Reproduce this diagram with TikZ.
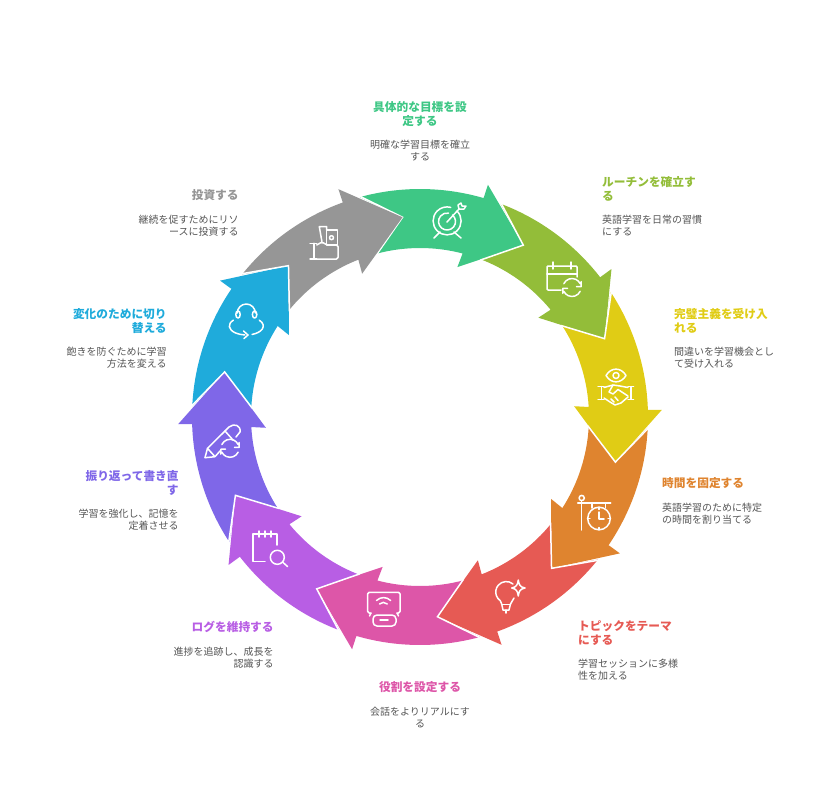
\documentclass[tikz,border=0pt]{standalone}
\usepackage{fontspec}
\setmainfont{Noto Sans CJK JP}
\usepackage{xcolor}
\definecolor{ringgreen}{HTML}{3EC785}
\definecolor{ringolive}{HTML}{93BD39}
\definecolor{ringyellow}{HTML}{E0CC15}
\definecolor{ringorange}{HTML}{DF842F}
\definecolor{ringred}{HTML}{E65A54}
\definecolor{ringpink}{HTML}{DD56A8}
\definecolor{ringpurple}{HTML}{B85EE4}
\definecolor{ringviolet}{HTML}{7F67E8}
\definecolor{ringblue}{HTML}{1FABDB}
\definecolor{ringgrey}{HTML}{969696}
\definecolor{bodygrey}{HTML}{555555}
\tikzset{
    icon/.style={draw=white, line width=1.5pt, line cap=round, line join=round},
    heading/.style={inner sep=0pt, font=\fontsize{11.7}{14}\selectfont\bfseries},
    bodytext/.style={inner sep=0pt, text=bodygrey, font=\fontsize{10}{12}\selectfont},
}
\newcommand{\refreshicon}[3]{
    \foreach \rot in {0,180} {
        \draw[icon, shift={(#1,#2)}, rotate=\rot] (205:#3) arc[start angle=205, end angle=335, radius=#3]
            (1.02*#3,-0.65*#3) -- (1.02*#3,-0.1*#3) -- (0.5*#3,-0.1*#3);
    }
}
\begin{document}
\begin{tikzpicture}[x=1pt, y=-1pt]
    \useasboundingbox (0,0) rectangle (840,784);

    % Ring of arrows, one for each tip angle
    \begin{scope}[shift={(420,417)}]
    \foreach \col/\tip in {ringgreen/-59, ringolive/-23, ringyellow/13, ringorange/49, ringred/85,
                           ringpink/121, ringpurple/157, ringviolet/193, ringblue/229, ringgrey/265} {
        \pgfmathsetmacro{\tailout}{\tip-46.3}
        \pgfmathsetmacro{\tailin}{\tip-46}
        \pgfmathsetmacro{\neckout}{\tip-14.8}
        \pgfmathsetmacro{\neckin}{\tip-16.4}
        \fill[\col] (\tailout:228) arc[start angle=\tailout, end angle=\neckout, radius=228]
            -- (\tip-14.7:242) -- (\tip:200.5) -- (\tip-17:154.5) -- (\neckin:169)
            arc[start angle=\neckin, end angle=\tailin, radius=169]
            -- (\tip-36:200.5) -- cycle;
        \draw[white, line width=1.5pt, line join=miter] (\tailout:229) -- (\tip-36:200.5) -- (\tailin:168);
    }
    \end{scope}

    % Target
    \draw[icon] (457,211) arc[start angle=-45, end angle=285, radius=14];
    \draw[icon] (452.5,215) arc[start angle=-50, end angle=280, radius=8.5];
    \draw[icon] (447,222) -- (459,209) (434,238) -- (440,232) (461,238) -- (454,232);
    \draw[icon] (459,209) -- (458,205) -- (461,203) -- (462,206) -- (466,206) -- (464,209) -- cycle;

    % Calendar
    \draw[icon, rounded corners=1pt] (561,290) -- (547,290) -- (547,266) -- (577,266) -- (577,277);
    \draw[icon] (547,274) -- (577,274) (553,262) -- (553,269) (571,262) -- (571,269);
    \refreshicon{572}{287.5}{9}

    % Eye and handshake
    \draw[icon] (606,375.5) .. controls (611,367) and (621,367) .. (626,375.5)
        .. controls (621,384) and (611,384) .. (606,375.5) -- cycle;
    \draw[icon] (616,375.5) circle[radius=3];
    \draw[icon] (598,386.7) -- (604,386.7) (601.5,386.7) -- (601.5,399.3) (598,399.3) -- (604,399.3);
    \draw[icon] (628,386.7) -- (633.5,386.7) (631,386.7) -- (631,399.3) (628,399.3) -- (633.5,399.3);
    \draw[icon] (604,387.5) -- (613,385) -- (620,386) -- (628,387.5);
    \draw[icon] (604,398) -- (610,402) -- (615,405) -- (621,403) -- (628,397);
    \draw[icon] (613,385) -- (609,392) -- (613,394) -- (618,389.5) -- (628,396);
    \draw[icon] (611,399) -- (614,402) (615,397) -- (618,400.5);

    % Sign with clock
    \draw[icon] (581.7,498) circle[radius=2.6];
    \draw[icon] (581.7,501) -- (581.7,530) (577.7,503) -- (610.7,503);
    \draw[icon] (592,503) -- (592,508) (605.7,503) -- (605.7,508);
    \draw[icon] (599,518.5) circle[radius=11.3];
    \draw[icon] (599,512) -- (599,519) -- (604,519);
    \foreach \ang in {0,90,180,270} {
        \draw[icon] (599,518.5) ++(\ang:11.3) -- ++(\ang:-2.2);
    }

    % Bulb with sparkle
    \draw[icon] (513,584) arc[start angle=-50, end angle=-235, radius=10.5] -- (501.7,604) -- (503,610) -- (509,610) -- (510.5,604) -- (514,598);
    \draw[icon] (501.7,604.5) -- (510.5,604.5) (506,610) -- (506,613);
    \draw[icon] (518.3,580) .. controls (519,585) and (520,587) .. (525,588)
        .. controls (520,589) and (519,591) .. (518.3,596)
        .. controls (517.5,591) and (516.5,589) .. (511.7,588)
        .. controls (516.5,587) and (517.5,585) .. (518.3,580) -- cycle;

    % Tablet and goggles
    \draw[icon, rounded corners=1.5pt] (371,613) -- (367.7,613) -- (367.7,592.3) -- (400,592.3) -- (400,613) -- (397,613);
    \draw[icon] (371,613) -- (369.5,616) (397,613) -- (398.5,616);
    \draw[icon] (379.5,604) arc[start angle=-135, end angle=-45, radius=5.5];
    \draw[icon] (376.5,600.5) arc[start angle=-135, end angle=-45, radius=10];
    \draw[icon, rounded corners=4pt] (373,615) rectangle (396,626);
    \draw[icon] (380,620) -- (388,620);

    % Log sheet with magnifier
    \draw[icon] (265,561.7) -- (253,561.7) -- (253,534) -- (277,534) -- (277,545);
    \foreach \x in {259,265,271} {
        \draw[icon] (\x,531) -- (\x,537);
    }
    \draw[icon] (277.3,557.3) circle[radius=7];
    \draw[icon] (282.5,562) -- (287.5,566.5);

    % Pencil
    \draw[icon] (205,457.7) -- (207.5,448.3) -- (229,427) .. controls (234,423) and (241,425) .. (240,432) -- (236,437);
    \draw[icon] (205,457.7) -- (215,456.7) -- (207.5,448.3) (215,456.7) -- (220,451);
    \draw[icon] (225,431) -- (233,440);
    \refreshicon{230}{448.3}{9}

    % Headphones and loop
    \draw[icon] (237.3,313) arc[start angle=180, end angle=360, radius=9];
    \draw[icon] (238,314.5) ellipse[x radius=2.2, y radius=3.6];
    \draw[icon] (254.6,314.5) ellipse[x radius=2.2, y radius=3.6];
    \draw[icon] (233.3,320.2) arc[start angle=220, end angle=95, x radius=17, y radius=9];
    \draw[icon] (259.3,320.2) arc[start angle=-40, end angle=70, x radius=17, y radius=9];
    \draw[icon] (243.5,331) -- (248,335) -- (244,338.5);

    % Hand with money
    \draw[icon] (326.7,230) rectangle (337.7,245);
    \draw[icon] (331.5,237.7) circle[radius=2];
    \draw[icon] (326.7,230) -- (326.7,226.7) -- (319.3,226.7) -- (322,242);
    \draw[icon] (310,243.3) -- (316.7,243.3) (314,243.3) -- (314,259) (310,259) -- (316.7,259);
    \draw[icon, rounded corners=1.5pt] (316.7,245) -- (322,242) -- (327,245) -- (338,245) -- (338,259) -- (316.7,259);

    % Labels around the ring
    \node[heading, text=ringgreen, align=center, anchor=north] (goal) at (420,101.5) {具体的な目標を設\\定する};
    \node[bodytext, align=center, anchor=north] (goaltext) at (420,139.5) {明確な学習目標を確立\\する};

    \node[heading, text=ringolive, align=left, anchor=north west] (routine) at (602,176.5) {ルーチンを確立す\\る};
    \node[bodytext, align=left, anchor=north west] (routinetext) at (602,214.5) {英語学習を日常の習慣\\にする};

    \node[heading, text=ringyellow, align=left, anchor=north west] (accept) at (674,308.5) {完璧主義を受け入\\れる};
    \node[bodytext, align=left, anchor=north west] (accepttext) at (674,346.5) {間違いを学習機会とし\\て受け入れる};

    \node[heading, text=ringorange, align=left, anchor=north west] (fixtime) at (662,477.5) {時間を固定する};
    \node[bodytext, align=left, anchor=north west] (fixtimetext) at (662,502.5) {英語学習のために特定\\の時間を割り当てる};

    \node[heading, text=ringred, align=left, anchor=north west] (topic) at (578,620.5) {トピックをテーマ\\にする};
    \node[bodytext, align=left, anchor=north west] (topictext) at (578,658.5) {学習セッションに多様\\性を加える};

    \node[heading, text=ringpink, align=center, anchor=north] (role) at (420,681.5) {役割を設定する};
    \node[bodytext, align=center, anchor=north] (roletext) at (420,706.5) {会話をよりリアルにす\\る};

    \node[heading, text=ringpurple, align=right, anchor=north east] (logs) at (273.8,621.5) {ログを維持する};
    \node[bodytext, align=right, anchor=north east] (logstext) at (273.8,646.5) {進捗を追跡し、成長を\\認識する};

    \node[heading, text=ringviolet, align=right, anchor=north east] (review) at (178.8,470.5) {振り返って書き直\\す};
    \node[bodytext, align=right, anchor=north east] (reviewtext) at (178.8,508.5) {学習を強化し、記憶を\\定着させる};

    \node[heading, text=ringblue, align=right, anchor=north east] (change) at (166.8,308.5) {変化のために切り\\替える};
    \node[bodytext, align=right, anchor=north east] (changetext) at (166.8,346.5) {飽きを防ぐために学習\\方法を変える};

    \node[heading, text=ringgrey, align=right, anchor=north east] (invest) at (238.8,189.5) {投資する};
    \node[bodytext, align=right, anchor=north east] (investtext) at (238.8,214.5) {継続を促すためにリソ\\ースに投資する};
\end{tikzpicture}
\end{document}
